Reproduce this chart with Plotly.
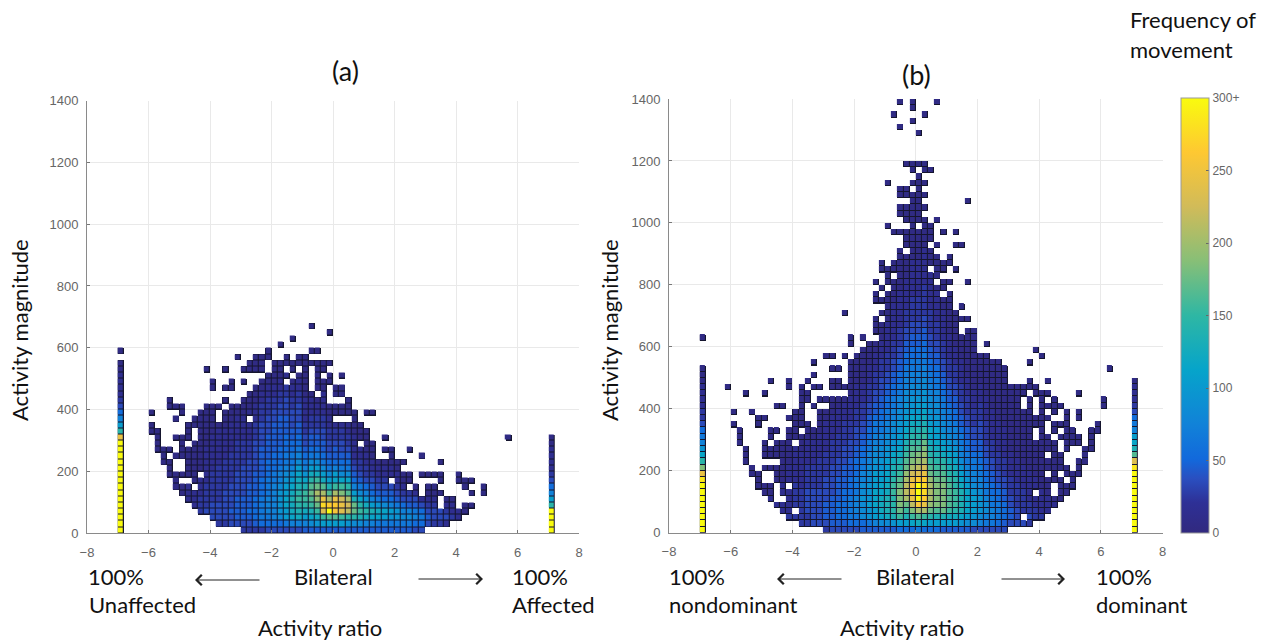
import plotly.graph_objects as go

E = "."
# Each string is one x bin (from -7.0, width 0.2), read bottom-up (y bins of width 20).
# "." = empty; other characters = count / 10 in base 36.
A_COLS = [
 "uuuuuuuuuuuuuuuoea7532111100.0", "", "", "", "",
 E*16+"00.0",
 E*13+"0000",
 E*11+"000",
 E*9+"000.0"+E*6+"00",
 E*7+"000..0..0..0.0",
 E*6+"00.0..0000...00",
 E*5+"111.00000.000",
 "....111.0000000..00",
 "...222111.0000000000",
 "...3222211111"+"10000000"+E*5+"0",
 "..3332222211111100000..00",
 ".23332222221111110..0",
 ".2333332222211111000.0.0..0",
 ".33433332222211111000..00",
 ".34444333322222111100"+E*7+"0",
 "2344443333322221111000..0.0",
 "234544443333222111.1000...00",
 "245555444433333222111000..000",
 "2566665554444433332221100.000",
 "35677766655544443332221100..00",
 "3577777766555444443322110000",
 "3589999877655544444332211000..0",
 "36aabbaa9876655544433322.1.00",
 "37bccdcba9766554433322110.00...0",
 "37cdefedcba876554433322110.00",
 "47aceffdb97654332211110000000",
 "48bdfghgeca865443221110....0.0...0",
 "49cfhjkhfca86544322110.00000.0",
 "4afnrokgca865443322111100.00",
 "4aguqkgda865433221100...00.0....0",
 "4agpqokfba75443221.00.00",
 "4afnomifb865433221.00.00.0",
 "49elmkgeb865432211.000",
 "48ehhda7543211110000",
 "48dfeb86432211.000",
 "47cec975322110000..0",
 "47bda7543211000"+E*4+"0",
 "46bc96432110",
 "46ab85432110.0.0",
 "469a7543.11000",
 "469964321100",
 "4687532100.0",
 "4687432.00...0",
 "35764310",
 "356531...0..0",
 ".3432100.0",
 ".2332100.0",
 ".233..0.00.0",
 ".13210",
 "..2110",
 "..11....00",
 "...00..00",
 "....0.0.0",
 "",
 "......00",
 "", "", "",
 E*15+"0",
 "", "", "", "", "", "",
 "uuuuea7532111100",
]

B_COLS = [
 "uuuuuuuusoieb97653221111000....0", "", "", "",
 E*23+"0",
 E*17+"0.0",
 E*14+"000",
 E*11+"000"+E*8+"0",
 E*9+"00"+E*8+"0",
 E*7+"000"+E*7+"00",
 E*6+"00..0.000...0...0",
 E*5+"100..0.00.00"+E*7+"0",
 E*4+"1...000.000.0...0",
 E*3+"11.110000000"+E*5+"0",
 "..21111.111000000.0....00",
 "..2.2222111111.00000",
 ".222222111111000.0000000",
 ".22333322221111000...00.0",
 ".3333332222111100...0..0.0.0",
 ".3333332222211110000.0.0",
 "23444333322221111100.0"+E*6+"0",
 "3444443333322221111000.00.0.0",
 "3455544443332222111100.00.0",
 "3455555444433322221110.0....0"+E*6+"0",
 "35666"+"65554"+"44333"+"22211"+"11000"+"000"+"..00",
 "35677"+"76665"+"55443"+"33222"+"11110"+"0000",
 "45888"+"98877"+"66554"+"43322"+"21110"+"00000"+".0",
 "4699a"+"99988"+"87766"+"55443"+"32221"+"11000"+"0",
 "47aab"+"bbaaa"+"99887"+"76654"+"43322"+"21110"+"0"+".000..00.0",
 "48bcc"+"cbbaa"+"99887"+"76655"+"44333"+"22211"+"1000"+".0.0.0..00",
 "48cdd"+"dccbb"+"aa998"+"87766"+"55443"+"32221"+"11110"+"0000"+".000"+E*6+"0"+E*6+"0",
 "49dee"+"effed"+"dcba9"+"98877"+"66554"+"43322"+"21111"+"11000"+"0"+".00....0"+E*18+"0",
 "5afhi"+"iihgf"+"edcba"+"a9988"+"77665"+"54433"+"22211"+"11110"+"00000"+"0"+"..0..00.00"+E*9+"0...0",
 "5adfh"+"kllkj"+"hgfed"+"cbaa9"+"98877"+"66554"+"43322"+"21111"+"10000"+".000.000.00...0",
 "5bfil"+"oppom"+"kihgf"+"edcba"+"99887"+"76655"+"44332"+"22211"+"11110"+"00000"+"00000.0.00"+E*6+"0.00",
 "6cgkp"+"tuuqn"+"ljigf"+"edcba"+"a9887"+"76655"+"4433"+"2222"+"111111"+"00000."+"00000000.0....0",
 "5bfko"+"qrrqo"+"mkjih"+"fedcb"+"a9988"+"77665"+"54433"+"22222"+"11111"+"10000"+"0.0.0.0.00"+E*7+"0",
 "5aehj"+"kkkjh"+"gfedc"+"bba99"+"88776"+"65544"+"33222"+"21111"+"11"+".000.000"+E*8+"0",
 "5adgi"+"iiihg"+"fedcb"+"aa998"+"87766"+"55443"+"32221"+"11110"+".0000.0...0"+E*18+"0",
 "4adhi"+"iiihg"+"fecba"+"98877"+"66554"+"43322"+"21111"+"100"+".00.00....0",
 "4acfg"+"gggfe"+"dcba9"+"87766"+"54433"+"22211"+"11000"+"0000"+".0..00",
 "4acef"+"ffeed"+"cba98"+"77655"+"44332"+"22111"+"00000"+"0"+E*6+"0...0.0",
 "49bdd"+"ddcba"+"98776"+"65443"+"32221"+"11100"+"00"+"..0.0"+E*9+"0",
 "48abb"+"bba98"+"76655"+"44332"+"22111"+"00000"+"000"+".0"+E*5+"0"+E*12+"0",
 "389aa"+"a9877"+"66544"+"33222"+"11100"+"00000"+"000",
 "37899987766554433322211100000",
 "36788766554433222211110000000.0",
 "3677665544332221111100000000",
 "3566655433222111110000000000",
 "345554433222111110000000000",
 ".34433222111100000000000",
 ".33322221111000000000000",
 ".3.22221111000000000..00",
 ".232211111000000000000.00..0",
 "..2211.11000000..00...00"+E*5+"0",
 "..211110000000000000000"+E*5+"0",
 "...111000.00.000..0.0.0.0",
 "....10..0000000.00.000",
 ".....0000.000..0.0..0",
 "......00.00..0000000",
 E*7+"000....000",
 E*9+"000..00..00..0",
 E*11+"000",
 E*13+"0000",
 E*16+"00",
 E*20+"00",
 E*26+"0",
 "", "", "",
 "uuuuuuuuuusngdba765321110",
]

X_CENTERS = [-6.9 + 0.2 * i for i in range(71)]
Y_CENTERS = [10 + 20 * j for j in range(70)]
AXIS_X_TICKS = [-8, -6, -4, -2, 0, 2, 4, 6, 8]
AXIS_Y_TICKS = [0, 200, 400, 600, 800, 1000, 1200, 1400]
BAR_TICKS = [0, 50, 100, 150, 200, 250, 300]
BAR_LABELS = ["0", "50", "100", "150", "200", "250", "300+"]

PARULA = [
 [0.0, "#31297F"], [0.07, "#2E3096"], [0.125, "#2A4FC0"], [0.17, "#1269DC"], [0.25, "#1182D8"], [0.375, "#06A4CA"],
 [0.5, "#2EB7A4"], [0.625, "#87BF77"], [0.75, "#D1BB59"], [0.875, "#FEC832"], [1.0, "#F9FB0E"],
]
W, H = 1265, 642


def to_grid(cols):
    z = [[None] * len(cols) for _ in Y_CENTERS]
    for i, col in enumerate(cols):
        for j, c in enumerate(col):
            if c != ".":
                z[j][i] = int(c, 36) * 10 + 5
    return z


def px(x):
    return x / W


def py(y):
    return 1 - y / H


fig = go.Figure()
panels = [
    (A_COLS, "x", "y", False),
    (B_COLS, "x2", "y2", True),
]
for cols, xa, ya, bar in panels:
    z = to_grid(cols)
    edge = [[None if v is None else 1 for v in row] for row in z]
    fig.add_trace(go.Heatmap(x=X_CENTERS, y=Y_CENTERS, z=edge, xaxis=xa, yaxis=ya, zmin=0, zmax=1,
                             colorscale=[[0, "#15152e"], [1, "#15152e"]], showscale=False, hoverinfo="skip"))
    kw = dict(showscale=False)
    if bar:
        kw = dict(showscale=True, colorbar=dict(
            x=px(1181), xanchor="left", y=py(533), yanchor="bottom",
            len=434.5 / H, lenmode="fraction", thickness=28, thicknessmode="pixels", xpad=0, ypad=0,
            tickmode="array", tickvals=BAR_TICKS, ticktext=BAR_LABELS, ticks="inside", ticklen=3,
            tickcolor="#666", tickfont=dict(family="Liberation Sans", size=12, color="#666"),
            outlinecolor="#999", outlinewidth=1))
    fig.add_trace(go.Heatmap(x=X_CENTERS, y=Y_CENTERS, z=z, xaxis=xa, yaxis=ya, zmin=0, zmax=300,
                             colorscale=PARULA, xgap=1, ygap=1, hoverongaps=False, **kw))

axis_common = dict(showgrid=True, gridcolor="#e9e9e9", gridwidth=1, zeroline=False, showline=True,
                   linecolor="#8a8a8a", linewidth=1, ticks="inside", ticklen=3, tickcolor="#777",
                   tickfont=dict(family="Liberation Sans", size=13, color="#666"), mirror=False)
layout_axes = {}
for suffix, xpx, ypx in [("", (87, 579), (533.3, 100.5)), ("2", (669, 1162.5), (532.7, 99))]:
    layout_axes["xaxis" + suffix] = dict(domain=[px(xpx[0]), px(xpx[1])], range=[-8, 8], tickvals=AXIS_X_TICKS,
                                         anchor="y" + suffix, ticklabelstandoff=7, **axis_common)
    layout_axes["yaxis" + suffix] = dict(domain=[py(ypx[0]), py(ypx[1])], range=[0, 1400], tickvals=AXIS_Y_TICKS,
                                         anchor="x" + suffix, ticklabelstandoff=5, **axis_common)

TEXTS = [
    ("(a)", 346, 70, 27, "center", 0), ("(b)", 916, 75, 27, "center", 0),
    ("Frequency of", 1127.5, 19.5, 22, "left", 0), ("movement", 1127.5, 49.5, 22, "left", 0),
    ("Activity magnitude", 20, 330, 22, "center", -90), ("Activity magnitude", 610, 330, 22, "center", -90),
    ("100%", 86.5, 576, 22, "left", 0), ("Unaffected", 86.5, 604.5, 22, "left", 0),
    ("Bilateral", 333, 576, 22, "center", 0),
    ("100%", 510, 576, 22, "left", 0), ("Affected", 510, 604.5, 22, "left", 0),
    ("Activity ratio", 319.5, 627, 22, "center", 0),
    ("100%", 666.6, 576, 22, "left", 0), ("nondominant", 666.6, 604.5, 22, "left", 0),
    ("Bilateral", 915, 576, 22, "center", 0),
    ("100%", 1093.6, 576, 22, "left", 0), ("dominant", 1093.6, 604.5, 22, "left", 0),
    ("Activity ratio", 901.7, 627, 22, "center", 0),
]
annotations = [dict(text=t, x=px(x), y=py(y), xref="paper", yref="paper", xanchor=a, yanchor="middle",
                    showarrow=False, textangle=r, font=dict(family="Lato", size=s, color="#111"))
               for t, x, y, s, a, r in TEXTS]
ARROWS = [(261, 195, 580), (417, 483, 579), (843, 777, 579), (1000, 1065, 579)]
for x0, x1, y in ARROWS:
    annotations.append(dict(x=px(x1), y=py(y), ax=x0 - x1, ay=0, xref="paper", yref="paper", axref="pixel",
                            ayref="pixel", text="", showarrow=True, arrowhead=4, arrowsize=2, arrowwidth=1,
                            arrowcolor="#222"))

fig.update_layout(width=W, height=H, margin=dict(l=0, r=0, t=0, b=0, autoexpand=False), paper_bgcolor="white",
                  plot_bgcolor="white", annotations=annotations, **layout_axes)
fig.write_html("out.html", post_script="document.body.style.margin='0';", config=dict(displayModeBar=False))
